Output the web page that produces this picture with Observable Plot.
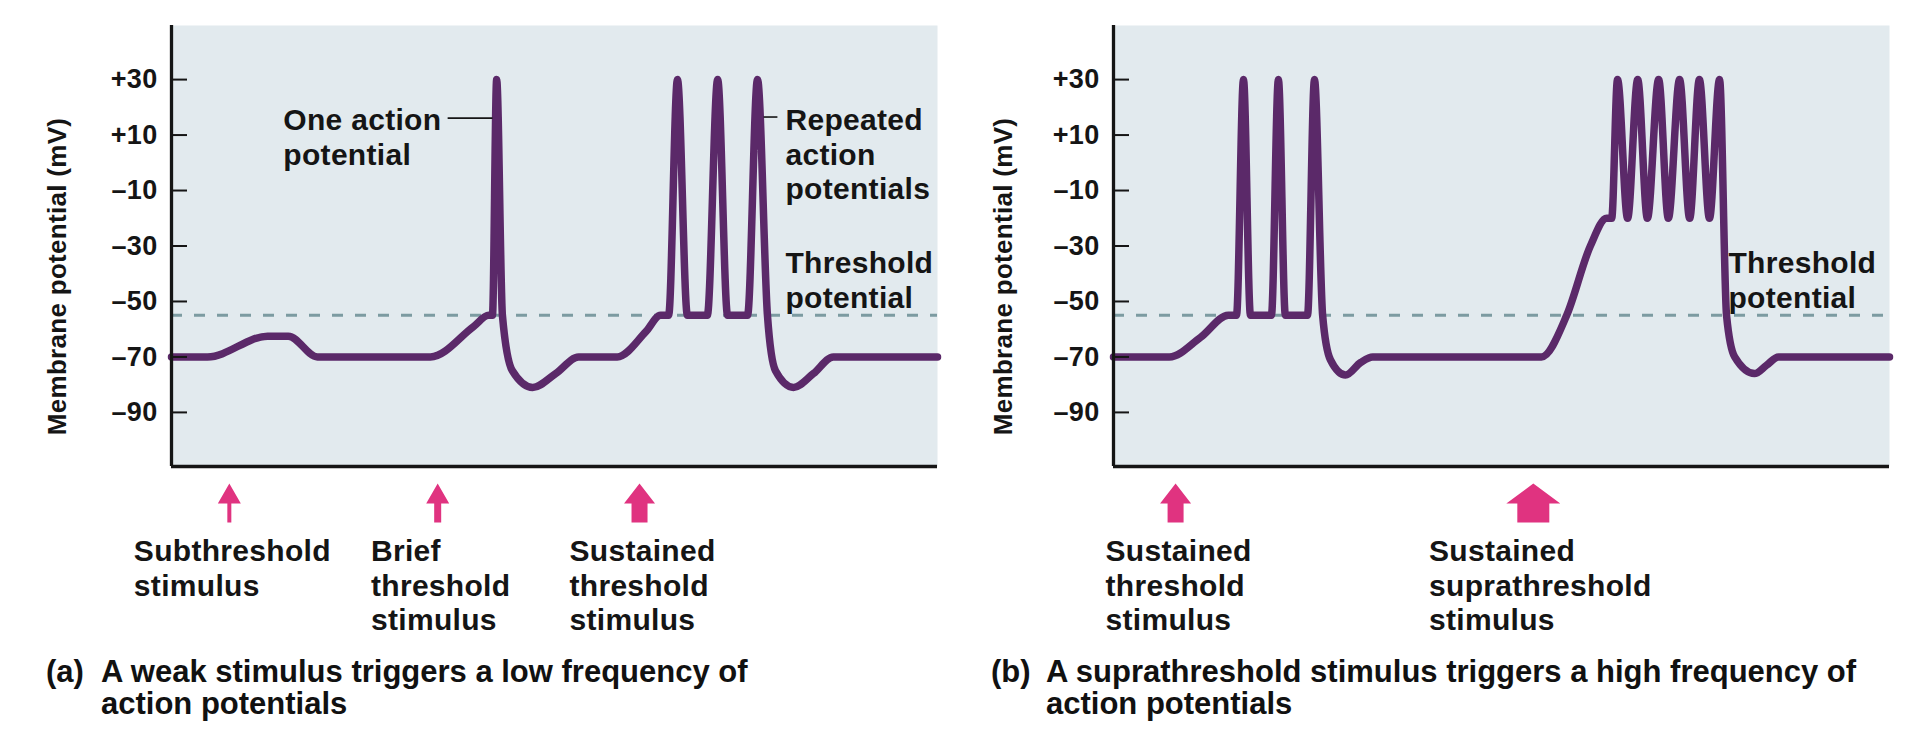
<!DOCTYPE html>
<html><head><meta charset="utf-8">
<script src="https://cdn.jsdelivr.net/npm/d3@7"></script>
<script src="https://cdn.jsdelivr.net/npm/@observablehq/plot@0.6"></script>
<style>
html,body{margin:0;padding:0;background:#fff;}
#wrap{position:relative;width:1914px;height:750px;font-family:"Liberation Sans",Arial,Helvetica,sans-serif;font-weight:bold;color:#111;}
.panel{position:absolute;top:0;}
.cap{position:absolute;top:656px;display:flex;font-size:31px;line-height:32px;letter-spacing:0px;white-space:nowrap;}
.cap .lab{width:55px;}
</style></head><body>
<div id="wrap">
  <div id="pa" class="panel" style="left:0px"></div>
  <div id="pb" class="panel" style="left:957px"></div>
  <div class="cap" style="left:46px"><span class="lab" id="capLabA"></span><span id="capTextA"></span></div>
  <div class="cap" style="left:991px"><span class="lab" id="capLabB"></span><span id="capTextB"></span></div>
</div>
<script>
// ---------- data ----------
const yTicks = [30, 10, -10, -30, -50, -70, -90];
const yDomain = [-109.5, 49.5];
const xDomain = [0, 200];
const threshold = -55;
const yTitle = "Membrane potential (mV)";

// Panel (a): membrane potential trace (time in arbitrary ms, voltage in mV)
const timeA = [0, 9.4, 25.1, 30.5, 38.1, 67.6, 78.9, 82.8, 83.8, 84.9, 86.4, 89.0, 94.3, 100.3, 106.3, 116.4, 123.8, 127.7, 129.8, 132.1, 134.7, 139.9, 142.6, 145.2, 150.4, 153.0, 155.6, 157.7, 162.4, 167.6, 172.8, 200];
const voltA = [-70, -70, -62.5, -62.5, -70, -70, -59, -55, -55, 30, -55, -75, -81, -76, -70, -70, -61, -55, -55, 30, -55, -55, 30, -55, -55, 30, -55, -75, -81, -76, -70, -70];

// Panel (b)
const timeB = [0, 14.4, 22.4, 29.6, 31.7, 33.5, 35.3, 40.7, 42.5, 44.3, 50.0, 51.8, 53.9, 55.9, 59.8, 63.7, 66.8, 110.3, 116.8, 122.9, 127.1, 128.4, 129.9, 132.5, 135.1, 137.6, 140.5, 143.0, 145.9, 148.5, 151.0, 153.6, 156.2, 158.0, 160.1, 165.2, 168.3, 171.4, 200];
const voltB = [-70, -70, -63, -55, -55, 30, -55, -55, 30, -55, -55, 30, -55, -71, -76.5, -72, -70, -70, -55, -30, -20, -20, 30, -20, 30, -20, 30, -20, 30, -20, 30, -20, 30, -55, -70, -76, -73, -70, -70];

// Stimuli
const stimTimeA = [15.1, 69.5, 122.2];
const stimStrengthA = [1, 2, 3];
const stimLabelA = ["Subthreshold\nstimulus", "Brief\nthreshold\nstimulus", "Sustained\nthreshold\nstimulus"];
const stimTimeB = [16.0, 108.2];
const stimStrengthB = [3, 4];
const stimLabelB = ["Sustained\nthreshold\nstimulus", "Sustained\nsuprathreshold\nstimulus"];

// Annotations
const noteTextA = ["One action\npotential", "Repeated\naction\npotentials", "Threshold\npotential"];
const noteTimeA = [29.2, 160.3, 160.3];
const noteVoltA = [20.8, 20.8, -30.8];
const leaderFromA = [72.1, 154.6];
const leaderToA = [83.8, 158.2];
const leaderVoltA = [16.1, 16.5];
const noteTextB = ["Threshold\npotential"];
const noteTimeB = [158.5];
const noteVoltB = [-30.8];
const leaderFromB = [];
const leaderToB = [];
const leaderVoltB = [];

// Captions
const capLabA = "(a)";
const capTextA = ["A weak stimulus triggers a low frequency of", "action potentials"];
const capLabB = "(b)";
const capTextB = ["A suprathreshold stimulus triggers a high frequency of", "action potentials"];

// ---------- styles ----------
const FONT = '"Liberation Sans", Arial, Helvetica, sans-serif';
const LS = 0.3;
const LABEL_SIZE = 30;
const LINE_H = 1.16;
const TRACE = "#5b2969";
const PINK = "#e03380";
const BG = "#e2eaee";
const DASH = "#7c9ba1";
const INK = "#151515";
const arrowGeom = {1: [23, 4], 2: [23, 7], 3: [31, 16], 4: [54, 32]};

const ctx = document.createElement("canvas").getContext("2d");
ctx.font = `bold ${LABEL_SIZE}px ${FONT}`;
const blockWidth = (s) => d3.max(s.split("\n"), l => ctx.measureText(l).width + l.length * LS);

function arrowSymbol(level) {
  const [head, shaft] = arrowGeom[level];
  const total = 39, headH = 20;
  return {
    draw(c) {
      const top = -total / 2, bot = total / 2, neck = top + headH;
      c.moveTo(0, top);
      c.lineTo(head / 2, neck);
      c.lineTo(shaft / 2, neck);
      c.lineTo(shaft / 2, bot);
      c.lineTo(-shaft / 2, bot);
      c.lineTo(-shaft / 2, neck);
      c.lineTo(-head / 2, neck);
      c.closePath();
    }
  };
}

const fmt = v => v > 0 ? "+" + v : "\u2013" + Math.abs(v);

function panel({time, volt, stimTime, stimStrength, stimLabel, noteText, noteTime, noteVolt, lFrom, lTo, lVolt, marginLeft, marginRight, titleDx}) {
  const width = 957, height = 650, marginTop = 25, marginBottom = 184;
  const innerW = width - marginLeft - marginRight;
  const trace = time.map((t, i) => ({t, v: volt[i]}));
  const stims = stimTime.map((t, i) => ({t, s: stimStrength[i], label: stimLabel[i]}));
  const notes = noteText.map((text, i) => ({text, t: noteTime[i], v: noteVolt[i]}));
  const leaders = lFrom.map((a, i) => ({a, b: lTo[i], v: lVolt[i]}));
  return Plot.plot({
    width, height, marginTop, marginBottom, marginLeft, marginRight,
    x: {domain: xDomain, axis: null},
    y: {domain: yDomain, axis: null},
    style: {fontFamily: FONT, fontWeight: "bold", color: INK, background: "transparent", letterSpacing: LS + "px", overflow: "visible"},
    marks: [
      Plot.frame({fill: BG, stroke: "none"}),
      Plot.ruleY([threshold], {stroke: DASH, strokeWidth: 3, strokeDasharray: "11,12"}),
      Plot.line(trace, {x: "t", y: "v", curve: "monotone-x", stroke: TRACE, strokeWidth: 7.5, strokeLinejoin: "round", strokeLinecap: "round"}),
      Plot.link(leaders, {x1: "a", x2: "b", y1: "v", y2: "v", stroke: INK, strokeWidth: 1.6}),
      Plot.text(notes, {x: "t", y: "v", text: "text", textAnchor: "start", lineAnchor: "top", lineHeight: LINE_H, fontSize: LABEL_SIZE, fill: INK}),
      // axes
      Plot.ruleX([xDomain[0]], {stroke: INK, strokeWidth: 3.3}),
      Plot.ruleY([yDomain[0]], {stroke: INK, strokeWidth: 3.5}),
      Plot.ruleY(yTicks, {stroke: INK, strokeWidth: 2, insetRight: innerW - 16}),
      Plot.text(yTicks, {y: d => d, text: fmt, frameAnchor: "left", dx: -14, textAnchor: "end", fontSize: 27, fill: INK}),
      Plot.text([{v: -41, text: yTitle}], {y: "v", text: "text", frameAnchor: "left", rotate: -90, dx: titleDx, lineAnchor: "bottom", textAnchor: "middle", fontSize: 26, fill: INK}),
      // stimulus arrows + labels
      ...stims.map(d => Plot.dot([d], {x: "t", frameAnchor: "bottom", dy: 36.5, symbol: arrowSymbol(d.s), r: 10, fill: PINK, stroke: "none"})),
      ...stims.map(d => Plot.text([d], {x: "t", text: "label", frameAnchor: "bottom", dy: 69.5, dx: 3 - blockWidth(d.label) / 2 + (d.s === 4 ? 4 : 0), textAnchor: "start", lineAnchor: "top", lineHeight: LINE_H, fontSize: LABEL_SIZE, fill: INK}))
    ]
  });
}

document.getElementById("pa").appendChild(panel({
  time: timeA, volt: voltA, stimTime: stimTimeA, stimStrength: stimStrengthA, stimLabel: stimLabelA,
  noteText: noteTextA, noteTime: noteTimeA, noteVolt: noteVoltA, lFrom: leaderFromA, lTo: leaderToA, lVolt: leaderVoltA,
  marginLeft: 171, marginRight: 20, titleDx: -106
}));
document.getElementById("pb").appendChild(panel({
  time: timeB, volt: voltB, stimTime: stimTimeB, stimStrength: stimStrengthB, stimLabel: stimLabelB,
  noteText: noteTextB, noteTime: noteTimeB, noteVolt: noteVoltB, lFrom: leaderFromB, lTo: leaderToB, lVolt: leaderVoltB,
  marginLeft: 156, marginRight: 25, titleDx: -102
}));

document.getElementById("capLabA").textContent = capLabA;
document.getElementById("capTextA").innerHTML = capTextA.join("<br>");
document.getElementById("capLabB").textContent = capLabB;
document.getElementById("capTextB").innerHTML = capTextB.join("<br>");
</script>
</body></html>
